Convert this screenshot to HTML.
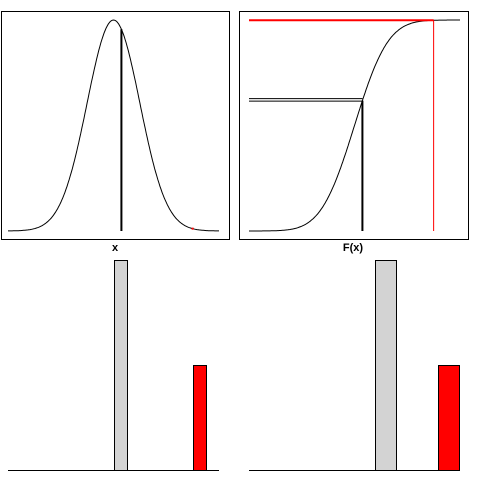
<!DOCTYPE html>
<html><head><meta charset="utf-8"><style>
body{margin:0;background:#fff;width:480px;height:480px;overflow:hidden;font-family:"Liberation Sans",sans-serif}
</style></head><body>
<svg id="c" width="480" height="480" xmlns="http://www.w3.org/2000/svg"></svg>
<script>
const xDomain=[-4,4];
const markX=[0.3];
const tailX=[3.0];
const barValues=[1.0,0.5];
const barLabels=["x","tail"];
const NS="http://www.w3.org/2000/svg";
const svg=document.getElementById('c');
function mk(t,a,name){const e=document.createElementNS(NS,t);for(const k in a)e.setAttribute(k,a[k]);


svg.appendChild(e);return e;}
function pdf(x){return Math.exp(-x*x/2)/Math.sqrt(2*Math.PI);}
function cdf(x){let s=0,n=400,a=-6;const h=(x-a)/n;for(let i=0;i<n;i++){s+=pdf(a+(i+.5)*h)*h;}return s;}
const pk=pdf(0);
function panel(x0){return {sx:v=>x0+(v-xDomain[0])/(xDomain[1]-xDomain[0])*211,base:231,top:20};}
const L=panel(8),R=panel(249);
mk('rect',{x:1.5,y:11.5,width:228,height:228,fill:'none',stroke:'#000','stroke-width':1},'pdf-frame');
mk('rect',{x:239.5,y:11.5,width:229,height:228,fill:'none',stroke:'#000','stroke-width':1},'cdf-frame');
let p='',q='';
for(let i=0;i<=200;i++){const v=xDomain[0]+i*(xDomain[1]-xDomain[0])/200;
p+=(i?'L':'M')+L.sx(v).toFixed(1)+','+(L.base-pdf(v)/pk*(L.base-L.top)).toFixed(1);
q+=(i?'L':'M')+R.sx(v).toFixed(1)+','+(R.base-cdf(v)*(R.base-R.top)).toFixed(1);}
mk('path',{d:p,fill:'none',stroke:'#000','stroke-width':1},'density-curve');
mk('path',{d:q,fill:'none',stroke:'#000','stroke-width':1},'cdf-curve');
const m=markX[0],t=tailX[0];
mk('line',{x1:L.sx(m),x2:L.sx(m),y1:L.base,y2:L.base-pdf(m)/pk*(L.base-L.top),stroke:'#000','stroke-width':2},'x-marker');
mk('rect',{x:L.sx(t)-1,y:L.base-pdf(t)/pk*(L.base-L.top)-1,width:2,height:2,fill:'red'},'tail-point');
const fy=R.base-cdf(m)*(R.base-R.top);
mk('line',{x1:R.sx(m),x2:R.sx(m),y1:R.base,y2:fy,stroke:'#000','stroke-width':2},'cdf-x-marker');
mk('line',{x1:249,x2:R.sx(m),y1:fy-2,y2:fy-2,stroke:'#000','stroke-width':1},'cdf-level-line-1');
mk('line',{x1:249,x2:R.sx(m),y1:fy+0.5,y2:fy+0.5,stroke:'#000','stroke-width':1},'cdf-level-line-2');
const ty=R.base-cdf(t)*(R.base-R.top);
mk('line',{x1:249,x2:R.sx(t),y1:ty,y2:ty,stroke:'red','stroke-width':2},'tail-level-line');
mk('line',{x1:R.sx(t),x2:R.sx(t),y1:ty,y2:R.base,stroke:'red','stroke-width':1},'tail-x-line');
const lx=mk('text',{x:115,y:251,'text-anchor':'middle','font-size':11,'font-weight':'bold'},'x-axis-title');lx.textContent='x';
const lf=mk('text',{x:353,y:251,'text-anchor':'middle','font-size':11,'font-weight':'bold'},'cdf-axis-title');lf.textContent='F(x)';
// bars
function bars(x0,w,pos,suffix){const base=470,maxH=210;
mk('line',{x1:x0,x2:x0+211,y1:base+0.5,y2:base+0.5,stroke:'#000'},'baseline-'+suffix);
barValues.forEach((v,i)=>{const h=v*maxH;
mk('rect',{x:pos[i]+0.5,y:base-h+0.5,width:w,height:h,fill:i?'red':'#d3d3d3',stroke:'#000','stroke-width':1},'bar-'+barLabels[i]+'-'+suffix);});}
bars(8,13,[114,193],'left');
bars(249,21,[375,438],'right');
</script>
</body></html>
